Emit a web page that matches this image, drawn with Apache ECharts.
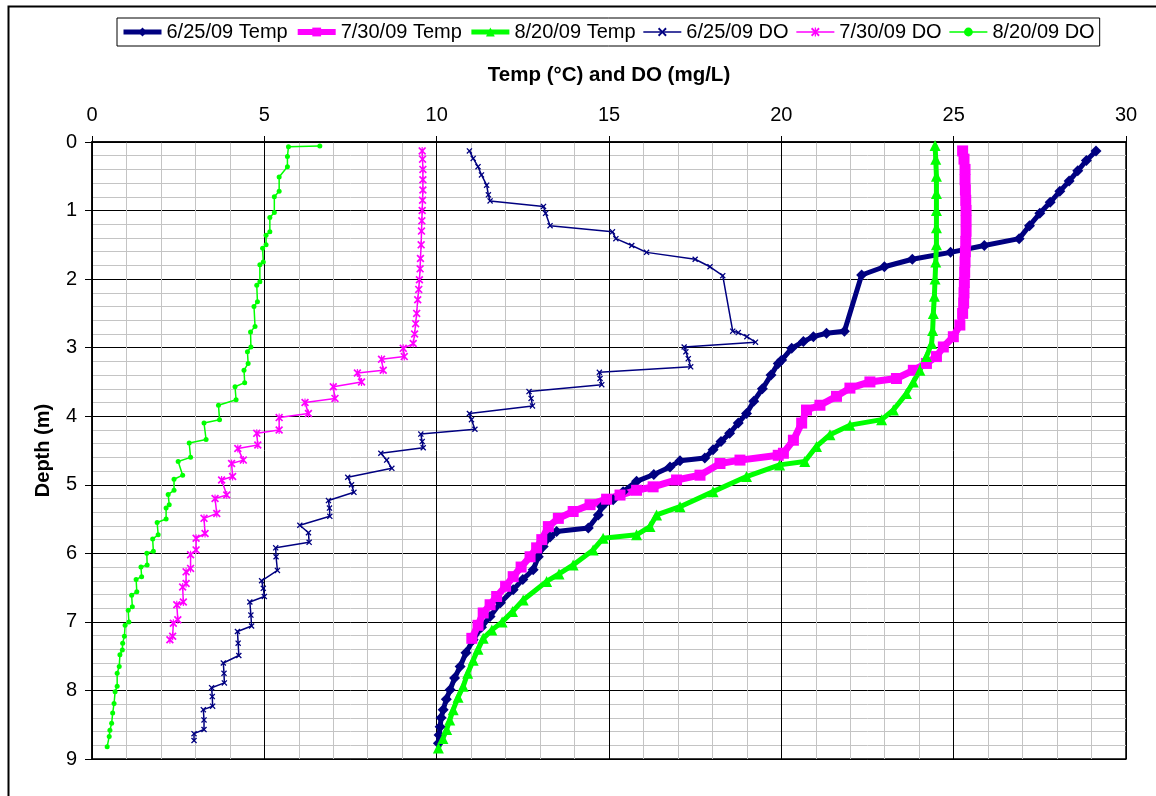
<!DOCTYPE html>
<html>
<head>
<meta charset="utf-8">
<script src="https://cdn.jsdelivr.net/npm/echarts@6/dist/echarts.min.js"></script>
<style>
html,body{margin:0;padding:0;background:#fff;}
#chart{width:1156px;height:796px;}
</style>
</head>
<body>
<div id="chart"></div>
<script>
// ---- Data: [value, depth(m)] pairs ----
const seriesNames = ['6/25/09 Temp','7/30/09 Temp','8/20/09 Temp','6/25/09 DO','7/30/09 DO','8/20/09 DO'];
const xTicks = [0,5,10,15,20,25,30];
const yTicks = [0,1,2,3,4,5,6,7,8,9];

const temp0625 = [[29.13,0.13],[28.85,0.27],[28.6,0.42],[28.35,0.57],[28.08,0.72],[27.8,0.88],[27.5,1.04],[27.2,1.22],[26.9,1.41],[25.89,1.51],[24.91,1.61],[23.8,1.71],[22.99,1.82],[22.33,1.94],[21.83,2.76],[21.31,2.79],[20.93,2.84],[20.64,2.91],[20.3,3.01],[20.01,3.18],[19.91,3.23],[19.7,3.4],[19.45,3.6],[19.2,3.78],[18.99,3.96],[18.75,4.1],[18.5,4.25],[18.25,4.37],[18.02,4.49],[17.78,4.61],[17.06,4.65],[16.77,4.74],[16.3,4.85],[15.8,4.95],[15.41,5.1],[15.12,5.22],[14.79,5.32],[14.69,5.44],[14.4,5.63],[13.48,5.68],[13.29,5.76],[13.09,5.9],[12.95,6.05],[12.8,6.24],[12.5,6.38],[12.22,6.53],[11.85,6.72],[11.55,6.92],[11.3,7.08],[11.06,7.26],[10.85,7.45],[10.68,7.65],[10.52,7.82],[10.39,7.99],[10.28,8.13],[10.19,8.28],[10.13,8.4],[10.1,8.53],[10.07,8.65],[10.05,8.77]];

const temp0730 = [[25.26,0.13],[25.3,0.25],[25.33,0.4],[25.33,0.55],[25.34,0.7],[25.35,0.85],[25.36,1.0],[25.36,1.15],[25.36,1.3],[25.35,1.45],[25.34,1.6],[25.33,1.75],[25.32,1.9],[25.31,2.05],[25.3,2.2],[25.29,2.35],[25.26,2.5],[25.18,2.67],[24.99,2.84],[24.7,2.99],[24.5,3.13],[24.21,3.23],[23.83,3.33],[23.34,3.45],[22.57,3.5],[21.99,3.59],[21.6,3.71],[21.12,3.84],[20.73,3.91],[20.59,4.1],[20.35,4.35],[20.06,4.54],[19.91,4.57],[18.8,4.64],[18.22,4.69],[17.64,4.86],[16.96,4.93],[16.28,5.03],[15.8,5.08],[15.32,5.15],[14.93,5.21],[14.45,5.29],[13.96,5.39],[13.53,5.49],[13.24,5.61],[13.05,5.8],[12.9,5.92],[12.71,6.05],[12.45,6.2],[12.22,6.34],[12.0,6.48],[11.74,6.63],[11.55,6.75],[11.35,6.87],[11.2,7.05],[11.02,7.24]];

const temp0820 = [[24.46,0.05],[24.48,0.25],[24.5,0.5],[24.5,0.75],[24.5,1.0],[24.5,1.25],[24.5,1.5],[24.48,1.75],[24.46,2.0],[24.44,2.25],[24.41,2.5],[24.39,2.75],[24.36,2.94],[24.21,3.13],[24.02,3.33],[23.83,3.5],[23.63,3.67],[23.25,3.91],[22.91,4.05],[21.99,4.13],[21.41,4.27],[21.02,4.44],[20.68,4.66],[19.95,4.71],[18.99,4.88],[18.02,5.1],[17.06,5.32],[16.38,5.44],[16.19,5.61],[15.8,5.73],[14.83,5.78],[14.54,5.95],[13.96,6.17],[13.55,6.3],[13.19,6.41],[12.51,6.68],[12.2,6.85],[11.9,7.0],[11.6,7.12],[11.35,7.24],[11.2,7.4],[11.06,7.56],[10.9,7.75],[10.77,7.94],[10.62,8.1],[10.48,8.28],[10.38,8.43],[10.29,8.57],[10.18,8.7],[10.05,8.84]];

const do0625 = [[10.95,0.13],[11.06,0.24],[11.2,0.36],[11.3,0.48],[11.45,0.63],[11.5,0.77],[11.55,0.86],[13.1,0.94],[13.16,1.04],[13.29,1.22],[15.1,1.31],[15.2,1.41],[15.66,1.51],[16.09,1.61],[17.5,1.71],[17.93,1.82],[18.3,1.95],[18.59,2.76],[18.75,2.78],[19.0,2.84],[19.25,2.92],[17.18,2.99],[17.23,3.06],[17.3,3.16],[17.37,3.28],[14.72,3.36],[14.74,3.45],[14.79,3.54],[12.68,3.64],[12.74,3.74],[12.78,3.85],[10.95,3.96],[11.01,4.05],[11.11,4.19],[9.54,4.26],[9.58,4.37],[9.61,4.46],[8.38,4.54],[8.55,4.64],[8.7,4.76],[7.42,4.89],[7.53,5.0],[7.6,5.11],[6.86,5.23],[6.89,5.34],[6.9,5.46],[6.03,5.59],[6.28,5.7],[6.3,5.84],[5.33,5.92],[5.34,6.05],[5.38,6.25],[4.92,6.4],[4.97,6.51],[5.0,6.63],[4.58,6.71],[4.61,6.9],[4.63,7.06],[4.22,7.14],[4.24,7.31],[4.26,7.49],[3.81,7.6],[3.83,7.75],[3.84,7.89],[3.47,7.96],[3.49,8.09],[3.5,8.23],[3.23,8.28],[3.25,8.43],[3.25,8.57],[2.96,8.63],[2.96,8.73]];

const do0730 = [[9.58,0.13],[9.59,0.25],[9.6,0.4],[9.6,0.55],[9.6,0.7],[9.59,0.85],[9.58,1.0],[9.57,1.15],[9.56,1.3],[9.55,1.5],[9.53,1.7],[9.52,1.85],[9.5,2.01],[9.48,2.15],[9.45,2.3],[9.42,2.5],[9.39,2.65],[9.36,2.8],[9.32,2.94],[9.03,3.01],[9.06,3.13],[8.4,3.17],[8.45,3.33],[7.7,3.37],[7.82,3.5],[7.0,3.57],[7.05,3.74],[6.18,3.8],[6.28,3.96],[5.43,4.02],[5.43,4.2],[4.78,4.25],[4.81,4.42],[4.23,4.47],[4.39,4.64],[4.05,4.69],[4.08,4.88],[3.76,4.93],[3.91,5.15],[3.57,5.2],[3.62,5.42],[3.25,5.49],[3.28,5.71],[3.02,5.78],[3.02,5.95],[2.86,6.02],[2.86,6.22],[2.73,6.27],[2.73,6.44],[2.63,6.49],[2.65,6.71],[2.46,6.75],[2.49,6.97],[2.36,7.02],[2.34,7.21],[2.26,7.26]];

const do0820 = [[6.61,0.06],[5.7,0.07],[5.67,0.21],[5.67,0.36],[5.43,0.51],[5.43,0.72],[5.29,0.8],[5.29,1.03],[5.16,1.1],[5.16,1.31],[5.05,1.36],[5.05,1.5],[4.95,1.55],[4.97,1.75],[4.87,1.79],[4.87,2.04],[4.78,2.09],[4.8,2.33],[4.7,2.4],[4.73,2.69],[4.6,2.77],[4.61,2.99],[4.51,3.06],[4.53,3.23],[4.41,3.33],[4.43,3.51],[4.15,3.57],[4.18,3.76],[3.67,3.84],[3.7,4.05],[3.25,4.1],[3.31,4.34],[2.82,4.39],[2.86,4.6],[2.5,4.66],[2.63,4.86],[2.38,4.92],[2.38,5.08],[2.21,5.14],[2.24,5.29],[2.15,5.34],[2.15,5.5],[1.89,5.55],[1.92,5.73],[1.76,5.79],[1.78,5.97],[1.59,6.0],[1.6,6.17],[1.42,6.2],[1.44,6.34],[1.28,6.38],[1.3,6.56],[1.15,6.61],[1.17,6.78],[1.05,6.83],[1.07,7.0],[0.96,7.05],[0.94,7.21],[0.89,7.31],[0.88,7.41],[0.81,7.48],[0.79,7.65],[0.73,7.75],[0.73,7.94],[0.67,8.02],[0.64,8.19],[0.6,8.33],[0.57,8.48],[0.52,8.58],[0.5,8.67],[0.44,8.82]];

// ---- Styling ----
const FONT = "'Liberation Sans', Arial, sans-serif";
const NAVY = '#000080', MAG = '#FF00FF', GRN = '#00FF00';
const XMARK = 'path://M0,1.5L1.5,0L5,3.5L8.5,0L10,1.5L6.5,5L10,8.5L8.5,10L5,6.5L1.5,10L0,8.5L3.5,5Z';
const STAR = 'path://M0,1.5L1.5,0L5,3.5L8.5,0L10,1.5L6.5,5L10,8.5L8.5,10L5,6.5L1.5,10L0,8.5L3.5,5Z M4.3,0L5.7,0L5.7,10L4.3,10Z';
const legendWidths = [5, 6, 5, 1.5, 1.5, 1.5];

function mk(name, data, color, symbol, size, width) {
  return {
    name: name, type: 'line', data: data,
    symbol: symbol, symbolSize: size, showSymbol: true,
    lineStyle: {color: color, width: width},
    itemStyle: {color: color, borderColor: color, borderWidth: 0},
    emphasis: {disabled: true}
  };
}

const chart = echarts.init(document.getElementById('chart'), null, {renderer: 'canvas'});
chart.setOption({
  animation: false,
  backgroundColor: '#fff',
  textStyle: {fontFamily: FONT},
  graphic: [{
    type: 'rect', left: 6, top: 4, z: 100, silent: true,
    shape: {x: 0, y: 0, width: 1200, height: 900},
    style: {fill: 'none', stroke: '#000', lineWidth: 2}
  }],
  legend: {
    left: 117, top: 18,
    data: seriesNames.map(function (n, i) { return {name: n, lineStyle: {width: legendWidths[i]}}; }),
    borderColor: '#000', borderWidth: 1,
    padding: [4, 5, 4, 4],
    itemGap: 7, itemWidth: 38, itemHeight: 11,
    textStyle: {fontSize: 20, color: '#000', fontFamily: FONT}
  },
  grid: {left: 92, top: 142, width: 1034, height: 617, show: true, borderColor: '#000', borderWidth: 1.5, backgroundColor: 'transparent'},
  xAxis: {
    type: 'value', position: 'top', min: 0, max: 30, interval: 5,
    name: 'Temp (°C) and DO (mg/L)', nameLocation: 'middle', nameGap: 56,
    nameTextStyle: {fontSize: 20.5, fontWeight: 'bold', color: '#000', fontFamily: FONT},
    axisLine: {show: true, lineStyle: {color: '#000', width: 1.5}},
    axisTick: {show: true, inside: false, length: 6, lineStyle: {color: '#000'}},
    axisLabel: {fontSize: 20, color: '#000', margin: 17, fontFamily: FONT,
      formatter: function (v) { return xTicks.indexOf(v) >= 0 ? String(v) : ''; }},
    splitLine: {show: true, lineStyle: {color: '#000', width: 1}},
    minorTick: {show: false, splitNumber: 5},
    minorSplitLine: {show: true, lineStyle: {color: '#c4c4c4', width: 1}}
  },
  yAxis: {
    type: 'value', inverse: true, min: 0, max: 9, interval: 1,
    name: 'Depth (m)', nameLocation: 'middle', nameGap: 39,
    nameTextStyle: {fontSize: 20, fontWeight: 'bold', color: '#000', fontFamily: FONT},
    axisLine: {show: true, lineStyle: {color: '#000', width: 1.5}},
    axisTick: {show: true, inside: false, length: 7, lineStyle: {color: '#000'}},
    axisLabel: {fontSize: 20, color: '#000', margin: 15, fontFamily: FONT,
      formatter: function (v) { return yTicks.indexOf(v) >= 0 ? String(v) : ''; }},
    splitLine: {show: true, lineStyle: {color: '#000', width: 1}},
    minorTick: {show: false, splitNumber: 5},
    minorSplitLine: {show: true, lineStyle: {color: '#c4c4c4', width: 1}}
  },
  series: [
    mk(seriesNames[0], temp0625, NAVY, 'diamond', 11, 5),
    mk(seriesNames[1], temp0730, MAG, 'rect', 11, 7),
    mk(seriesNames[2], temp0820, GRN, 'triangle', 11, 5),
    mk(seriesNames[3], do0625, NAVY, XMARK, 6, 1.5),
    mk(seriesNames[4], do0730, MAG, STAR, 8, 1.5),
    mk(seriesNames[5], do0820, GRN, 'circle', 5, 1.5)
  ]
});
</script>
</body>
</html>
